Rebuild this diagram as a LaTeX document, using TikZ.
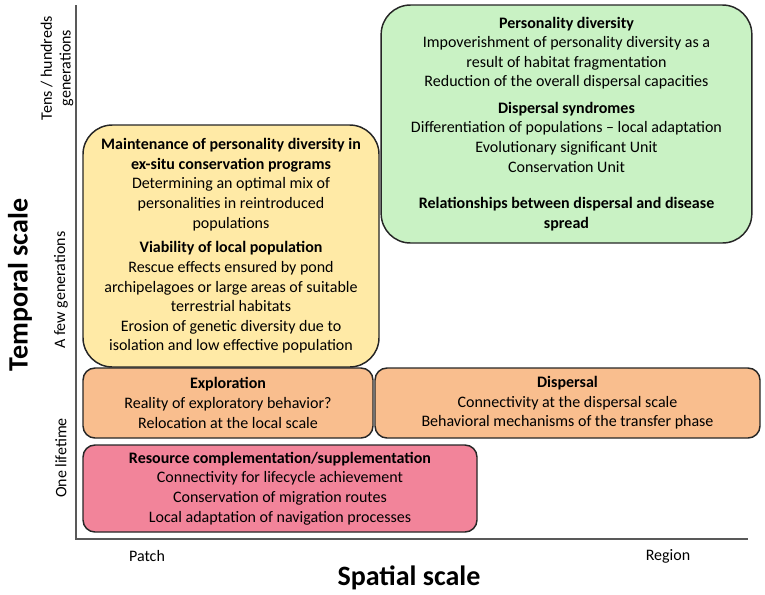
\documentclass[tikz,border=0pt]{standalone}
\usepackage{fontspec}
\setmainfont{Carlito}
\usetikzlibrary{calc}

\definecolor{boxgreen}{RGB}{201,242,196}
\definecolor{boxyellow}{RGB}{255,234,166}
\definecolor{boxorange}{RGB}{249,190,142}
\definecolor{boxpink}{RGB}{242,132,154}

\tikzset{
	topic/.style={draw=black!85, line width=1.1pt, align=center, inner sep=0pt,
		font=\fontsize{12}{14.7}\selectfont},
	bigbox/.style={topic, rounded corners=22pt},
	smallbox/.style={topic, rounded corners=9pt},
	axislabel/.style={font=\bfseries\fontsize{21}{24}\selectfont},
	ticklabel/.style={font=\fontsize{12}{14}\selectfont, align=center}
}

\begin{document}
\begin{tikzpicture}[x=0.75pt, y=-0.75pt]
			%%%%% START %%%%%
			\useasboundingbox (0, 0) rectangle (765, 594);
			
			% axes
			\coordinate (origin) at (76, 539);
			\coordinate (ytop) at (76, 5);
			\coordinate (xend) at (748, 539);
			\draw[line width=1.2pt, color=black!65] (ytop) -- (origin) -- (xend);
			
			% green box
			\node[bigbox, fill=boxgreen, minimum width=278pt, minimum height=178.5pt] (green) at (566.5, 124) {%
				\textbf{Personality diversity}\\
				Impoverishment of personality diversity as a\\
				result of habitat fragmentation\\
				Reduction of the overall dispersal capacities\\[5pt]
				\textbf{Dispersal syndromes}\\
				Differentiation of populations -- local adaptation\\
				Evolutionary significant Unit\\
				Conservation Unit\\[13pt]
				\textbf{Relationships between dispersal and disease}\\
				\textbf{spread}};
			
			% yellow box
			\node[bigbox, fill=boxyellow, minimum width=222pt, minimum height=181.5pt] (yellow) at (231, 246) {%
				\textbf{Maintenance of personality diversity in}\\
				\textbf{ex-situ conservation programs}\\
				Determining an optimal mix of\\
				personalities in reintroduced\\
				populations\\[4pt]
				\textbf{Viability of local population}\\
				Rescue effects ensured by pond\\
				archipelagoes or large areas of suitable\\
				terrestrial habitats\\
				Erosion of genetic diversity due to\\
				isolation and low effective population};
			
			% orange boxes
			\node[smallbox, fill=boxorange, minimum width=217.5pt, minimum height=52.5pt] (explo) at (228, 403) {%
				\textbf{Exploration}\\
				Reality of exploratory behavior?\\
				Relocation at the local scale};
			\node[smallbox, fill=boxorange, minimum width=288.75pt, minimum height=52.5pt] (disp) at (567.5, 403) {%
				\textbf{Dispersal}\\
				Connectivity at the dispersal scale\\
				Behavioral mechanisms of the transfer phase};
			
			% pink box
			\node[smallbox, fill=boxpink, minimum width=295.5pt, minimum height=65.25pt] (pink) at (280, 488.5) {%
				\textbf{Resource complementation/supplementation}\\
				Connectivity for lifecycle achievement\\
				Conservation of migration routes\\
				Local adaptation of navigation processes};
			
			% axis labels
			\node[ticklabel] (patch) at (147, 556) {Patch};
			\node[ticklabel] (region) at (668, 556) {Region};
			\node[axislabel] (spatial) at (409, 578) {Spatial scale};
			\node[axislabel, rotate=90] (temporal) at (20, 285) {Temporal scale};
			\node[ticklabel, rotate=90] (tens) at (57, 68) {Tens / hundreds\\generations};
			\node[ticklabel, rotate=90] (few) at (61, 290) {A few generations};
			\node[ticklabel, rotate=90] (life) at (61, 458) {One lifetime};
			
			%%%%% END %%%%%
\end{tikzpicture}
\end{document}
